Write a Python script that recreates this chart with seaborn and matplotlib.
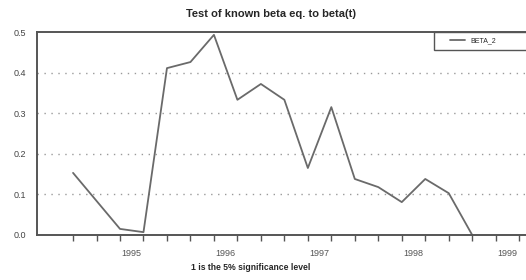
import numpy as np
import pandas as pd
import matplotlib
matplotlib.use("Agg")
import matplotlib.pyplot as plt
from matplotlib.patches import Rectangle
import seaborn as sns

# quarterly observations (index 0 = first plotted quarter)
quarter = np.arange(18)
beta_2 = [0.153, 0.084, 0.015, 0.007, 0.411, 0.426, 0.493, 0.333, 0.372,
          0.333, 0.165, 0.315, 0.138, 0.118, 0.081, 0.138, 0.103, 0.0]
year_labels = ['1995', '1996', '1997', '1998', '1999']
year_pos = [2.5, 6.5, 10.5, 14.5, 18.5]
y_ticks = [0.0, 0.1, 0.2, 0.3, 0.4, 0.5]

df = pd.DataFrame({'quarter': quarter, 'BETA_2': beta_2})

sns.set_style('white')
plt.rcParams['font.family'] = ['Liberation Sans', 'DejaVu Sans']

fig = plt.figure(figsize=(5.26, 2.8), dpi=100)
ax = fig.add_axes([37 / 526, 1 - 235 / 280, (545 - 37) / 526, (235 - 32) / 280])

sns.lineplot(data=df, x='quarter', y='BETA_2', ax=ax, color='#6a6a6a',
             linewidth=1.3, label='BETA_2', legend=False)

ax.set_xlim(-1.535, 20.1)
ax.set_ylim(0, 0.5)

# horizontal dotted grid
for v in y_ticks[1:-1]:
    ax.axhline(v, color='#9a9a9a', linestyle=(0, (1, 4)), linewidth=1.0, zorder=0)

ax.set_yticks(y_ticks)
ax.set_yticklabels(['%.1f' % v for v in y_ticks])
ax.tick_params(axis='y', length=0, pad=8, labelsize=6.5, labelcolor='#444444')

ax.set_xticks(np.arange(0, 21))
ax.set_xticklabels([])
ax.tick_params(axis='x', which='major', bottom=True, direction='out', length=4,
               width=1, color='#555555')
ax.set_xticks(year_pos, minor=True)
ax.set_xticklabels(year_labels, minor=True)
ax.tick_params(axis='x', which='minor', bottom=True, length=0, pad=10,
               labelsize=6.5, labelcolor='#555555')

for side in ['left', 'top', 'bottom', 'right']:
    ax.spines[side].set_color('#555555')
    ax.spines[side].set_linewidth(1.4)

ax.set_xlabel('')
ax.set_ylabel('')

fig.text(271 / 526, 1 - 14 / 280, 'Test of known beta eq. to beta(t)',
         ha='center', va='center', fontsize=8, fontweight='bold')
fig.text(251 / 526, 1 - 268 / 280, '1 is the 5% significance level',
         ha='center', va='center', fontsize=6.2, fontweight='bold')

# legend box
fig.patches.append(Rectangle((434 / 526, 1 - 50 / 280), 0.3, 18 / 280,
                             transform=fig.transFigure, facecolor='white',
                             edgecolor='#555555', linewidth=1.0, zorder=5))
leg = fig.legend(*ax.get_legend_handles_labels(), loc='center left',
                 bbox_to_anchor=(450 / 526, 1 - 41 / 280), frameon=False,
                 fontsize=5, handlelength=2.2, handletextpad=0.8,
                 borderaxespad=0, borderpad=0)
leg.set_zorder(6)

fig.savefig('out.png', dpi=100, facecolor='white')
